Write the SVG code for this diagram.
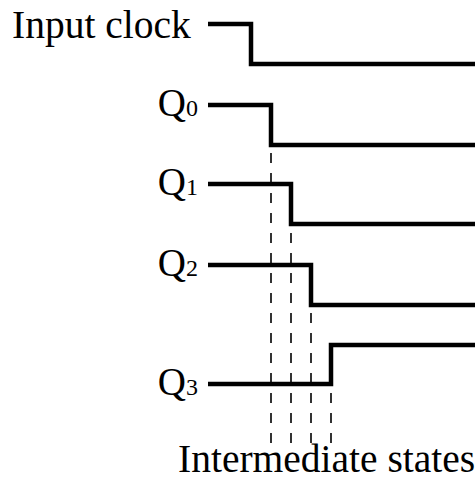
<svg xmlns="http://www.w3.org/2000/svg" width="475" height="480" viewBox="0 0 475 480">
<style>
.lbl{font-family:"Liberation Serif","Times New Roman",serif;font-size:39.5px;fill:#000}
.q{font-size:39px}
.sub{font-size:24px}
.wave{fill:none;stroke:#000;stroke-width:4.5;stroke-linejoin:miter;stroke-linecap:butt}
.dash{fill:none;stroke:#000;stroke-width:1.6;stroke-dasharray:10 10}
</style>
<rect width="475" height="480" fill="#fff"/>
<g id="input-clock">
<text class="lbl" x="12" y="38">Input clock</text>
<path class="wave" d="M208 24 H251 V64 H475"/>
</g>
<g id="q0">
<text class="lbl q" x="198" y="116" text-anchor="end">Q<tspan class="sub">0</tspan></text>
<path class="wave" d="M208 105 H271 V145 H475"/>
</g>
<g id="q1">
<text class="lbl q" x="198" y="195" text-anchor="end">Q<tspan class="sub">1</tspan></text>
<path class="wave" d="M208 184 H291 V224 H475"/>
</g>
<g id="q2">
<text class="lbl q" x="198" y="276" text-anchor="end">Q<tspan class="sub">2</tspan></text>
<path class="wave" d="M208 265 H311 V305 H475"/>
</g>
<g id="q3">
<text class="lbl q" x="198" y="395" text-anchor="end">Q<tspan class="sub">3</tspan></text>
<path class="wave" d="M208 384 H331 V345 H475"/>
</g>
<g id="connectors">
<line class="dash" x1="271" y1="153" x2="271" y2="443"/>
<line class="dash" x1="291" y1="233" x2="291" y2="443"/>
<line class="dash" x1="311" y1="313" x2="311" y2="443"/>
<line class="dash" x1="331" y1="393" x2="331" y2="443"/>
</g>
<g id="intermediate-states">
<text class="lbl" x="178" y="472">Intermediate states</text>
</g>
</svg>
